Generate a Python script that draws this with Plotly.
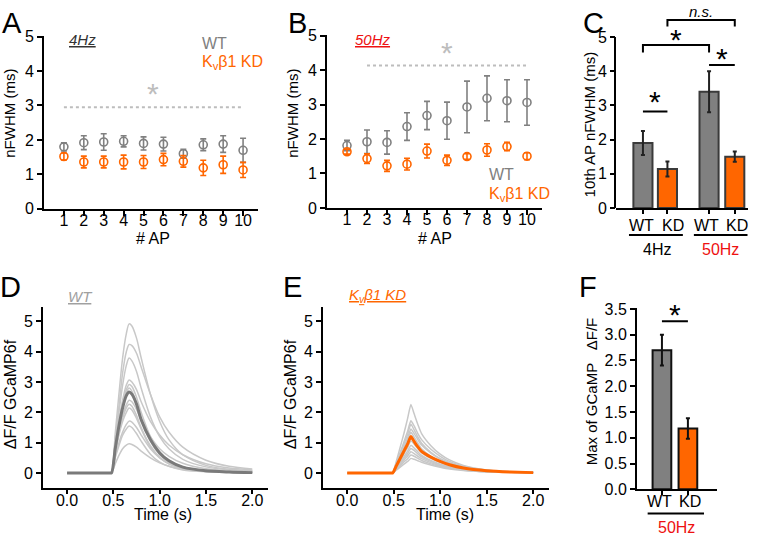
import plotly.graph_objects as go

W, H = 760, 543
FONT = "Liberation Sans, Arial, sans-serif"
GRAY = "#808080"
LGRAY = "#C8C8C8"
ORANGE = "#FF6600"
RED = "#EE1111"
SIGGRAY = "#BDBDBD"

# ---------------- data ----------------
ap = list(range(1, 11))
ap_ticks = ap

wt4_mean = [1.80, 1.92, 1.94, 1.96, 1.90, 1.88, 1.60, 1.86, 1.88, 1.70]
wt4_err = [0.12, 0.20, 0.24, 0.16, 0.19, 0.20, 0.13, 0.17, 0.24, 0.35]
kd4_mean = [1.52, 1.36, 1.36, 1.36, 1.36, 1.43, 1.38, 1.19, 1.28, 1.13]
kd4_err = [0.10, 0.17, 0.17, 0.20, 0.19, 0.18, 0.17, 0.22, 0.25, 0.22]

wt50_mean = [1.81, 1.92, 1.90, 2.36, 2.68, 2.53, 2.93, 3.18, 3.11, 3.06]
wt50_err = [0.15, 0.34, 0.34, 0.40, 0.41, 0.54, 0.75, 0.65, 0.61, 0.66]
kd50_mean = [1.63, 1.43, 1.22, 1.27, 1.65, 1.38, 1.49, 1.68, 1.78, 1.50]
kd50_err = [0.07, 0.14, 0.16, 0.17, 0.20, 0.15, 0.08, 0.18, 0.12, 0.10]

sig_a_level, sig_a_span = 2.95, [1, 10]
sig_b_level, sig_b_span = 4.13, [2, 10]

c_labels = ["WT", "KD", "WT", "KD"]
c_groups = ["4Hz", "50Hz"]
c_vals = [1.90, 1.14, 3.40, 1.50]
c_err = [0.35, 0.22, 0.60, 0.15]

f_labels = ["WT", "KD"]
f_group = "50Hz"
f_vals = [2.70, 1.18]
f_err = [0.30, 0.20]

d_time = [0, 0.40, 0.46, 0.48, 0.52, 0.56, 0.60, 0.64, 0.67, 0.70, 0.75, 0.80, 0.90, 1.00, 1.10, 1.25, 1.50, 1.75, 2.00]
d_traces = [
    [0, 0, 0, 0, 1.3, 2.6, 3.8, 4.6, 4.92, 4.85, 4.45, 3.8, 2.6, 1.7, 1.1, 0.6, 0.25, 0.12, 0.07],
    [0, 0, 0, 0, 1.1, 2.2, 3.3, 4.0, 4.24, 4.2, 3.95, 3.5, 2.6, 1.85, 1.35, 0.85, 0.42, 0.22, 0.13],
    [0, 0, 0, 0, 1.0, 2.0, 2.9, 3.55, 3.79, 3.7, 3.35, 2.8, 1.85, 1.2, 0.8, 0.45, 0.2, 0.1, 0.06],
    [0, 0, 0, 0, 0.9, 1.7, 2.4, 2.9, 3.07, 3.0, 2.75, 2.35, 1.7, 1.25, 0.92, 0.6, 0.3, 0.16, 0.1],
    [0, 0, 0, 0, 0.9, 1.7, 2.3, 2.75, 2.92, 2.85, 2.5, 2.0, 1.2, 0.7, 0.42, 0.2, 0.08, 0.03, 0.02],
    [0, 0, 0, 0, 0.85, 1.6, 2.2, 2.65, 2.8, 2.7, 2.3, 1.8, 1.05, 0.6, 0.35, 0.17, 0.06, 0.03, 0.02],
    [0, 0, 0, 0, 0.75, 1.4, 1.9, 2.25, 2.4, 2.35, 2.1, 1.75, 1.2, 0.8, 0.55, 0.32, 0.14, 0.07, 0.04],
    [0, 0, 0, 0, 0.7, 1.3, 1.8, 2.15, 2.27, 2.2, 1.9, 1.5, 0.9, 0.52, 0.3, 0.14, 0.05, 0.02, 0.01],
    [0, 0, 0, 0, 0.65, 1.25, 1.7, 2.0, 2.14, 2.08, 1.8, 1.45, 0.85, 0.5, 0.3, 0.14, 0.05, 0.02, 0.01],
    [0, 0, 0, 0, 0.55, 1.0, 1.35, 1.6, 1.71, 1.68, 1.5, 1.25, 0.8, 0.5, 0.32, 0.16, 0.06, 0.03, 0.02],
    [0, 0, 0, 0, 0.5, 0.9, 1.25, 1.45, 1.55, 1.5, 1.3, 1.05, 0.62, 0.36, 0.22, 0.1, 0.04, 0.02, 0.01],
    [0, 0, 0, 0, 0.3, 0.58, 0.8, 0.92, 0.96, 0.94, 0.85, 0.72, 0.5, 0.33, 0.22, 0.12, 0.05, 0.02, 0.01],
]
d_mean = [0, 0, 0, 0, 0.8, 1.55, 2.15, 2.55, 2.67, 2.6, 2.27, 1.76, 1.1, 0.66, 0.4, 0.19, 0.07, 0.03, 0.01]

e_time = [0, 0.42, 0.47, 0.49, 0.53, 0.57, 0.61, 0.65, 0.685, 0.72, 0.76, 0.80, 0.90, 1.00, 1.10, 1.25, 1.50, 1.75, 2.00]
e_traces = [
    [0, 0, 0, 0, 0.4, 0.85, 1.3, 1.8, 2.26, 1.95, 1.6, 1.3, 0.9, 0.62, 0.43, 0.25, 0.1, 0.04, 0.02],
    [0, 0, 0, 0, 0.33, 0.68, 1.02, 1.38, 1.72, 1.55, 1.3, 1.1, 0.78, 0.55, 0.38, 0.22, 0.09, 0.04, 0.02],
    [0, 0, 0, 0, 0.3, 0.62, 0.95, 1.28, 1.61, 1.42, 1.18, 0.98, 0.68, 0.47, 0.33, 0.19, 0.08, 0.03, 0.01],
    [0, 0, 0, 0, 0.28, 0.56, 0.85, 1.15, 1.45, 1.3, 1.1, 0.92, 0.65, 0.46, 0.33, 0.2, 0.09, 0.04, 0.02],
    [0, 0, 0, 0, 0.26, 0.52, 0.78, 1.06, 1.34, 1.18, 0.98, 0.8, 0.55, 0.38, 0.27, 0.16, 0.07, 0.03, 0.01],
    [0, 0, 0, 0, 0.2, 0.41, 0.62, 0.84, 1.05, 0.95, 0.8, 0.67, 0.48, 0.34, 0.24, 0.14, 0.06, 0.03, 0.01],
    [0, 0, 0, 0, 0.18, 0.36, 0.54, 0.72, 0.91, 0.82, 0.7, 0.58, 0.41, 0.29, 0.2, 0.12, 0.05, 0.02, 0.01],
    [0, 0, 0, 0, 0.16, 0.32, 0.48, 0.64, 0.81, 0.74, 0.63, 0.53, 0.38, 0.27, 0.19, 0.11, 0.05, 0.02, 0.01],
    [0, 0, 0, 0, 0.14, 0.28, 0.42, 0.56, 0.7, 0.64, 0.55, 0.47, 0.34, 0.24, 0.17, 0.1, 0.04, 0.02, 0.01],
    [0, 0, 0, 0, 0.12, 0.24, 0.36, 0.47, 0.59, 0.55, 0.48, 0.41, 0.3, 0.22, 0.16, 0.09, 0.04, 0.02, 0.01],
    [0, 0, 0, 0, 0.1, 0.19, 0.29, 0.38, 0.48, 0.45, 0.4, 0.35, 0.26, 0.19, 0.13, 0.08, 0.04, 0.02, 0.01],
]
e_mean = [0, 0, 0, 0, 0.24, 0.48, 0.72, 0.96, 1.2, 1.04, 0.86, 0.71, 0.52, 0.38, 0.27, 0.16, 0.07, 0.03, 0.01]

# ---------------- helpers ----------------
def dx(a, b):
    return [a / W, b / W]

def dy(top, bottom):
    return [1 - bottom / H, 1 - top / H]

def px(x):
    return x / W

def py(y):
    return 1 - y / H

base = dict(showline=True, linecolor="black", linewidth=2, ticks="outside", ticklen=5,
            tickwidth=1.5, tickcolor="black", showgrid=False, zeroline=False,
            tickfont=dict(size=16, color="black", family=FONT), fixedrange=True)

fig = go.Figure()

def dots(x, y, err, color, xa, ya):
    fig.add_trace(go.Scatter(x=x, y=y, mode="markers", xaxis=xa, yaxis=ya,
                             marker=dict(symbol="circle-open", size=8, color=color, line=dict(width=1.6)),
                             error_y=dict(array=err, color=color, thickness=1.6, width=3)))

# ---------- Panels A, B ----------
dots(ap, wt4_mean, wt4_err, GRAY, "x", "y")
dots(ap, kd4_mean, kd4_err, ORANGE, "x", "y")
dots(ap, wt50_mean, wt50_err, GRAY, "x2", "y2")
dots(ap, kd50_mean, kd50_err, ORANGE, "x2", "y2")

# ---------- Panel C ----------
c_pos = [1, 2, 3.7, 4.75]
c_colors = [GRAY, ORANGE, GRAY, ORANGE]
fig.add_trace(go.Bar(x=c_pos, y=c_vals, width=0.78, xaxis="x3", yaxis="y3",
                     marker=dict(color=c_colors, line=dict(color="#3a3a3a", width=2)),
                     error_y=dict(array=c_err, color="#222222", thickness=2, width=2)))
# ---------- Panel D ----------
for tr in d_traces:
    fig.add_trace(go.Scatter(x=d_time, y=tr, mode="lines", xaxis="x4", yaxis="y4",
                             line=dict(color=LGRAY, width=1.5, shape="spline", smoothing=0.8)))
fig.add_trace(go.Scatter(x=d_time, y=d_mean, mode="lines", xaxis="x4", yaxis="y4",
                         line=dict(color="#7a7a7a", width=3, shape="spline", smoothing=0.8)))
# ---------- Panel E ----------
for tr in e_traces:
    fig.add_trace(go.Scatter(x=e_time, y=tr, mode="lines", xaxis="x5", yaxis="y5",
                             line=dict(color=LGRAY, width=1.5, shape="spline", smoothing=0.5)))
fig.add_trace(go.Scatter(x=e_time, y=e_mean, mode="lines", xaxis="x5", yaxis="y5",
                         line=dict(color=ORANGE, width=3, shape="spline", smoothing=0.5)))
# ---------- Panel F ----------
f_pos = [1, 2]
fig.add_trace(go.Bar(x=f_pos, y=f_vals, width=0.72, xaxis="x6", yaxis="y6",
                     marker=dict(color=[GRAY, ORANGE], line=dict(color="#111111", width=2)),
                     error_y=dict(array=f_err, color="#111111", thickness=2, width=2)))

time_ticks = [0, 0.5, 1.0, 1.5, 2.0]

fig.update_layout(
    width=W, height=H, margin=dict(l=0, r=0, t=0, b=0),
    paper_bgcolor="white", plot_bgcolor="white", showlegend=False,
    font=dict(family=FONT, color="black"),
    xaxis=dict(base, domain=dx(44, 258), range=[0, 10.75], tickvals=ap_ticks, anchor="y",
               ticklabelstandoff=-9),
    yaxis=dict(base, domain=dy(29.4, 208), range=[0, 5.03], tickvals=[0, 1, 2, 3, 4, 5], anchor="x"),
    xaxis2=dict(base, domain=dx(327, 542), range=[0, 10.75], tickvals=ap_ticks, anchor="y2",
                ticklabelstandoff=-9),
    yaxis2=dict(base, domain=dy(28.4, 207), range=[0, 5.03], tickvals=[0, 1, 2, 3, 4, 5], anchor="x2"),
    xaxis3=dict(base, domain=dx(616, 748), range=[-0.1, 5.29], tickvals=c_pos, showticklabels=False,
                ticklen=4, anchor="y3"),
    yaxis3=dict(base, domain=dy(0.7, 207), range=[0, 5.86], tickvals=[0, 1, 2, 3, 4, 5],
                showline=False, anchor="x3"),
    xaxis4=dict(base, domain=dx(43, 268), range=[-0.26, 2.17], tickvals=time_ticks, tickformat=".1f",
                ticklen=4, anchor="y4", ticklabelstandoff=-8),
    yaxis4=dict(base, domain=dy(309, 496), range=[-0.51, 5.48], tickvals=[0, 1, 2, 3, 4, 5], anchor="x4"),
    xaxis5=dict(base, domain=dx(323, 549), range=[-0.26, 2.17], tickvals=time_ticks, tickformat=".1f",
                ticklen=4, anchor="y5", ticklabelstandoff=-8),
    yaxis5=dict(base, domain=dy(309, 496), range=[-0.51, 5.48], tickvals=[0, 1, 2, 3, 4, 5], anchor="x5"),
    xaxis6=dict(base, domain=dx(637, 717), range=[0.04, 3.12], tickvals=f_pos, showticklabels=False,
                ticklen=4, anchor="y6"),
    yaxis6=dict(base, domain=dy(310, 497), range=[0, 3.52],
                tickvals=[0, 0.5, 1.0, 1.5, 2.0, 2.5, 3.0, 3.5], tickformat=".1f", anchor="x6"),
)

shapes = []
shapes.append(dict(type="line", xref="x", yref="y", x0=sig_a_span[0], x1=sig_a_span[1],
                   y0=sig_a_level, y1=sig_a_level, line=dict(color=SIGGRAY, width=2, dash="dot")))
shapes.append(dict(type="line", xref="x2", yref="y2", x0=sig_b_span[0], x1=sig_b_span[1],
                   y0=sig_b_level, y1=sig_b_level, line=dict(color=SIGGRAY, width=2, dash="dot")))
shapes.append(dict(type="line", xref="paper", yref="y3", x0=px(615), x1=px(615), y0=0, y1=5,
                   line=dict(color="black", width=2)))
blk = dict(color="black", width=2)
shapes.append(dict(type="line", xref="x3", yref="y3", x0=c_pos[0], x1=c_pos[1], y0=2.82, y1=2.82, line=blk))
shapes.append(dict(type="path", xref="x3", yref="y3",
                   path=f"M {c_pos[0]},4.55 L {c_pos[0]},4.77 L {c_pos[2]},4.77 L {c_pos[2]},4.55", line=blk))
shapes.append(dict(type="line", xref="x3", yref="y3", x0=c_pos[2], x1=c_pos[3], y0=4.18, y1=4.18, line=blk))
shapes.append(dict(type="path", xref="x3", yref="y3",
                   path=f"M {c_pos[1]},5.31 L {c_pos[1]},5.5 L {c_pos[3]},5.5 L {c_pos[3]},5.31", line=blk))
shapes.append(dict(type="line", xref="x3", yref="paper", x0=c_pos[0] - 0.57, x1=c_pos[1] + 0.63,
                   y0=py(235), y1=py(235), line=blk))
shapes.append(dict(type="line", xref="x3", yref="paper", x0=c_pos[2] - 0.62, x1=c_pos[3] + 0.52,
                   y0=py(235), y1=py(235), line=blk))
shapes.append(dict(type="line", xref="x6", yref="y6", x0=f_pos[0], x1=f_pos[1], y0=3.26, y1=3.26, line=blk))
shapes.append(dict(type="line", xref="x6", yref="paper", x0=f_pos[0] - 0.55, x1=f_pos[1] + 0.62,
                   y0=py(522), y1=py(522), line=blk))
fig.update_layout(shapes=shapes)

ann = []

def text(t, x, y, size=15, color="black", xanchor="center", angle=0):
    ann.append(dict(text=t, x=px(x), y=py(y), xref="paper", yref="paper", showarrow=False,
                    xanchor=xanchor, yanchor="middle", textangle=angle,
                    font=dict(size=size, color=color, family=FONT)))

def star(x, y, xref, yref, color="black", size=30):
    ann.append(dict(text="*", x=x, y=y, xref=xref, yref=yref, showarrow=False,
                    xanchor="center", yanchor="middle", yshift=-0.23 * size + 3,
                    font=dict(size=size, color=color, family=FONT)))

for L, x, y in [("A", 12, 16), ("B", 297, 17), ("C", 593, 17), ("D", 10, 288), ("E", 292, 288), ("F", 588, 288)]:
    text(L, x, y, size=29)

text("<i><u>4Hz</u></i>", 82, 34, color="#333333")
text("<i><u>50Hz</u></i>", 373, 34, color=RED)
text("<i><u>WT</u></i>", 80, 298, color="#A0A0A0")
text("<i><u>K<sub>v</sub>β1 KD</u></i>", 377, 297, color=ORANGE)

text("WT", 200, 38, size=16, color=GRAY, xanchor="left")
text("K<sub>v</sub>β1 KD", 200, 57, size=16, color=ORANGE, xanchor="left")
text("WT", 487, 173, size=16, color=GRAY, xanchor="left")
text("K<sub>v</sub>β1 KD", 487, 193, size=16, color=ORANGE, xanchor="left")

text("nFWHM (ms)", 10, 110, angle=-90)
text("nFWHM (ms)", 293, 110, angle=-90)
text("10th AP nFWHM (ms)", 589, 121, size=15, angle=-90)
text("ΔF/F GCaMP6f", 10, 399, size=16, angle=-90)
text("ΔF/F GCaMP6f", 290, 399, size=16, angle=-90)
text("Max of GCaMP\u00a0\u00a0\u00a0ΔF/F", 591, 396, size=15, angle=-90)
text("# AP", 153, 239, size=16)
text("# AP", 435, 239, size=16)
text("Time (s)", 163, 523, size=16)
text("Time (s)", 445, 523, size=16)

for lab, xc in zip(c_labels, [641, 673, 706, 737]):
    text(lab, xc, 225, size=16)
for lab, xc in zip(f_labels, [659, 690]):
    text(lab, xc, 510, size=16)

text(c_groups[0], 657, 250, size=16)
text(c_groups[1], 720, 250, size=16, color=RED)
text(f_group, 676, 536, size=16, color=RED)

star(5.5, 3.45, "x", "y", color=SIGGRAY, size=30)
star(6.0, 4.62, "x2", "y2", color=SIGGRAY, size=30)
star((c_pos[0] + c_pos[1]) / 2, 3.22, "x3", "y3")
star((c_pos[0] + c_pos[2]) / 2, 5.05, "x3", "y3")
star((c_pos[2] + c_pos[3]) / 2, 4.48, "x3", "y3")
star((f_pos[0] + f_pos[1]) / 2, 3.47, "x6", "y6")
ann.append(dict(text="<i>n.s.</i>", x=(c_pos[1] + c_pos[3]) / 2, y=5.74, xref="x3", yref="y3",
                showarrow=False, xanchor="center", yanchor="middle",
                font=dict(size=15, color="black", family=FONT)))

fig.update_layout(annotations=ann)
fig.write_html("out.html", config={"displayModeBar": False},
               post_script="document.body.style.margin='0';document.body.style.padding='0';"
                           "document.body.style.overflow='hidden';")
